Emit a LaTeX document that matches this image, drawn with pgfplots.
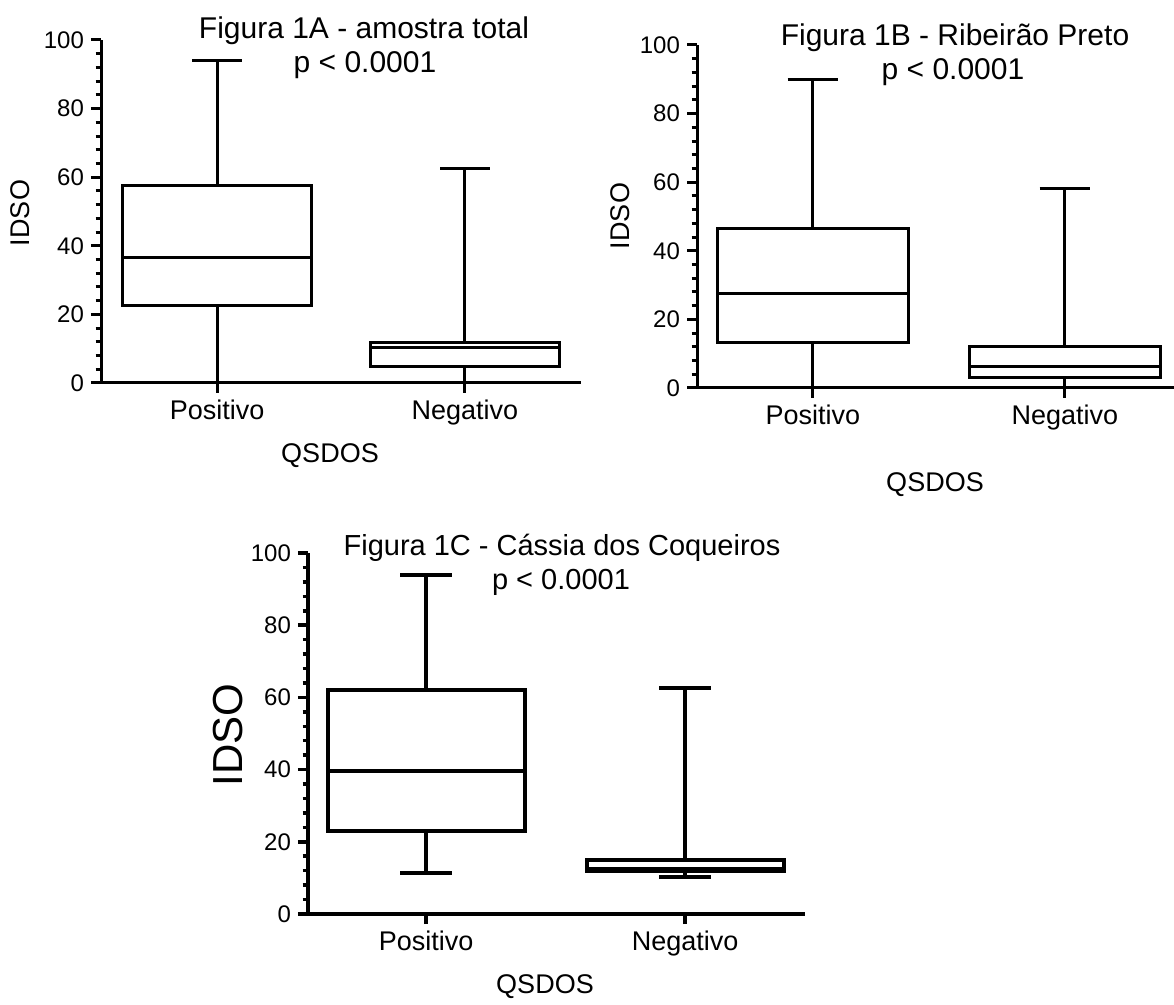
\documentclass[border=0pt]{standalone}
\usepackage{fontspec}
\setmainfont{Liberation Sans}
\usepackage{pgfplots}
\pgfplotsset{compat=1.18}
\usepgfplotslibrary{statistics}

\newcommand{\fs}[1]{\fontsize{#1}{1.2\dimexpr#1pt\relax}\selectfont}

% caixa{posicao}{bigode inf}{Q1}{mediana}{Q3}{bigode sup}
\pgfplotsset{
  idso/.style={
    scale only axis,
    anchor=south west,
    ymin=0, ymax=100,
    ytick={0,20,40,60,80,100},
    minor y tick num=4,
    xtick={1,2},
    xticklabels={Positivo,Negativo},
    axis x line*=bottom,
    axis y line*=left,
    axis line style={line width=1.5pt},
    tick align=outside,
    tick style={black, line width=1.5pt},
    major tick length=5pt,
    minor tick length=2.75pt,
    y tick label style={font=\fs{12}},
    x tick label style={font=\fs{13.5}},
    /pgf/number format/assume math mode=true,
    boxplot/draw direction=y,
    boxplot/box extend=0.76,
    boxplot/whisker extend=0.2,
    clip=false,
  },
  caixa/.style n args={6}{
    black, solid, line width=1.5pt,
    boxplot prepared={draw position=#1, lower whisker=#2,
      lower quartile=#3, median=#4, upper quartile=#5, upper whisker=#6},
  },
}

\begin{document}
\begin{tikzpicture}
\useasboundingbox (0,0) rectangle (587pt,-502.5pt);

% Figura 1A - amostra total
\begin{axis}[idso, at={(50.5pt,-191.5pt)}, width=240pt, height=171.5pt,
  xmin=0.532, xmax=2.468]
\addplot[caixa={1}{0}{22.5}{36.5}{57.5}{94}] coordinates {};
\addplot[caixa={2}{0}{4.7}{10.4}{11.8}{62.5}] coordinates {};
\end{axis}
\node[anchor=base, font=\fs{15}] at (182pt,-19.5pt) {Figura 1A - amostra total};
\node[anchor=base, font=\fs{15}] at (182.5pt,-36.5pt) {p < 0.0001};
\node[rotate=90, font=\fs{13.5}] at (10pt,-106.5pt) {IDSO};
\node[font=\fs{13.5}] at (165pt,-228pt) {QSDOS};

% Figura 1B - Ribeirao Preto
\begin{axis}[idso, at={(348.5pt,-194pt)}, width=238.5pt, height=171.5pt,
  xmin=0.54, xmax=2.433]
\addplot[caixa={1}{0}{13.2}{27.6}{46.4}{90}] coordinates {};
\addplot[caixa={2}{0}{3.0}{6.4}{12.2}{58.3}] coordinates {};
\end{axis}
\node[anchor=base, font=\fs{15}] at (477.5pt,-23pt) {Figura 1B - Ribeirão Preto};
\node[anchor=base, font=\fs{15}] at (476.5pt,-40pt) {p < 0.0001};
\node[rotate=90, font=\fs{13.5}] at (310pt,-108pt) {IDSO};
\node[font=\fs{13.5}] at (467.5pt,-242.5pt) {QSDOS};

% Figura 1C - Cassia dos Coqueiros
\begin{axis}[idso, at={(154pt,-457pt)}, width=248.5pt, height=180.5pt,
  xmin=0.544, xmax=2.463, axis line style={line width=1.75pt},
  tick style={black, line width=1.75pt}]
\addplot[caixa={1}{11.3}{23.0}{39.6}{62.0}{93.8}, line width=2pt] coordinates {};
\addplot[caixa={2}{10.3}{11.9}{12.6}{15.0}{62.5}, line width=2pt] coordinates {};
\end{axis}
\node[anchor=base, font=\fs{14.5}] at (281pt,-278pt) {Figura 1C - Cássia dos Coqueiros};
\node[anchor=base, font=\fs{14.5}] at (280.5pt,-295pt) {p < 0.0001};
\node[rotate=90, font=\fs{21}] at (114pt,-367.5pt) {IDSO};
\node[font=\fs{13.5}] at (272.5pt,-493.5pt) {QSDOS};
\end{tikzpicture}
\end{document}
